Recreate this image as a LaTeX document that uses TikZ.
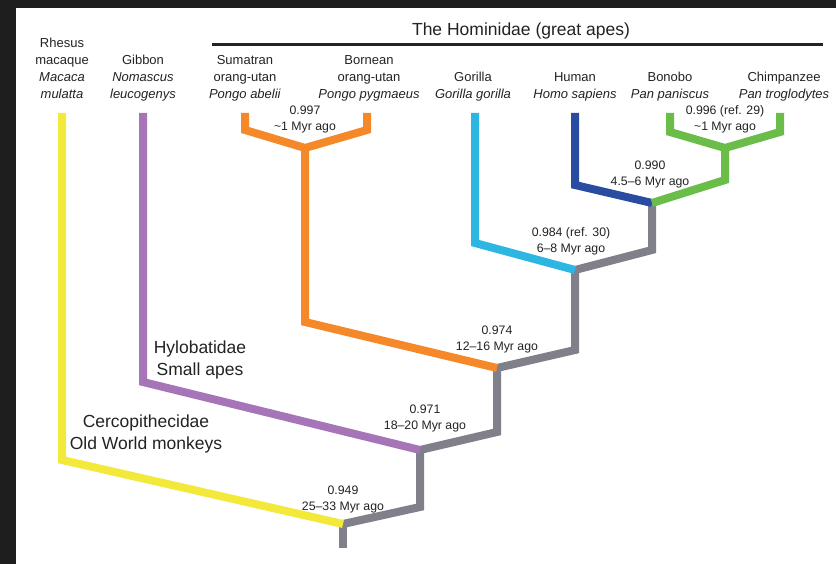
\documentclass[tikz,border=0pt]{standalone}
\usepackage{fontspec}
\setmainfont{Liberation Sans}
\usetikzlibrary{positioning}
\definecolor{framegrey}{RGB}{30,30,30}
\definecolor{macyellow}{RGB}{243,233,58}
\definecolor{gibpurple}{RGB}{166,117,184}
\definecolor{pongorange}{RGB}{245,137,42}
\definecolor{gorcyan}{RGB}{46,182,226}
\definecolor{homoblue}{RGB}{41,76,160}
\definecolor{pangreen}{RGB}{106,189,72}
\definecolor{stemgrey}{RGB}{128,128,138}
\definecolor{inkgrey}{RGB}{35,35,35}
\tikzstyle{branch} = [line width=8pt, line join=miter, line cap=butt]
\tikzstyle{taxon} = [align=center, inner sep=0pt, text depth=3pt, text=inkgrey,
font=\fontsize{13}{17}\selectfont]
\tikzstyle{age} = [align=center, inner sep=0pt, text depth=2.5pt, text=inkgrey,
font=\fontsize{12.3}{16}\selectfont]
\tikzstyle{clade} = [align=center, inner sep=0pt, text=inkgrey,
font=\fontsize{17.5}{21.5}\selectfont]
\tikzstyle{title} = [inner sep=0pt, text=inkgrey, font=\fontsize{17.5}{20}\selectfont]
\newcommand{\branch}[4][]{ %
  % Branch from junction #2 over elbow #3 up to #4.
  \draw[branch,#1] (#2) -- (#3) -- (#4) ;%
}

\begin{document}
\begin{tikzpicture}[x=1pt,y=-1pt]
	\useasboundingbox (0,0) rectangle (836,564);
	\fill[white] (0,0) rectangle (836,564);
	\fill[framegrey] (0,0) rectangle (836,8);
	\fill[framegrey] (0,0) rectangle (16,564);

	% tips
	\coordinate (tmac) at (62,113) ;
	\coordinate (tgib) at (143,113) ;
	\coordinate (tsum) at (245,113) ;
	\coordinate (tbor) at (367,113) ;
	\coordinate (tgor) at (475,113) ;
	\coordinate (thum) at (575,113) ;
	\coordinate (tbon) at (670,113) ;
	\coordinate (tchi) at (780,113) ;

	\node[taxon, above=11pt of tmac] (mac) {Rhesus\\macaque\\\textit{Macaca}\\\textit{mulatta}} ; %
	\node[taxon, above=11pt of tgib] (gib) {Gibbon\\\textit{Nomascus}\\\textit{leucogenys}} ; %
	\node[taxon, above=11pt of tsum] (sum) {Sumatran\\orang-utan\\\textit{Pongo abelii}} ; %
	\node[taxon, above=11pt of tbor, xshift=2pt] (bor) {Bornean\\orang-utan\\\textit{Pongo pygmaeus}} ; %
	\node[taxon, above=11pt of tgor, xshift=-2pt] (gor) {Gorilla\\\textit{Gorilla gorilla}} ; %
	\node[taxon, above=11pt of thum] (hum) {Human\\\textit{Homo sapiens}} ; %
	\node[taxon, above=11pt of tbon] (bon) {Bonobo\\\textit{Pan paniscus}} ; %
	\node[taxon, above=11pt of tchi, xshift=4pt] (chi) {Chimpanzee\\\textit{Pan troglodytes}} ; %

	\node[title] (hominidae) at (521,31) {The Hominidae (great apes)} ; %
	\coordinate (hl) at (212,44.5) ;
	\coordinate (hr) at (823,44.5) ;
	\draw[line width=2.5pt, inkgrey] (hl) -- (hr) ;

	% junctions and elbows
	\coordinate (root) at (343,548) ;
	\coordinate (j1) at (343,524) ;
	\coordinate (j2) at (420,450) ;
	\coordinate (j3) at (497,368) ;
	\coordinate (j4) at (575,270) ;
	\coordinate (j5) at (652,203) ;
	\coordinate (j6) at (725,148) ;
	\coordinate (j7) at (305,148) ;
	\coordinate (g1) at (420,507) ;
	\coordinate (g2) at (497,432) ;
	\coordinate (g3) at (575,350) ;
	\coordinate (g4) at (652,250) ;
	\coordinate (emac) at (62,460) ;
	\coordinate (egib) at (143,382) ;
	\coordinate (eora) at (305,322) ;
	\coordinate (egor) at (475,243) ;
	\coordinate (ehum) at (575,185) ;
	\coordinate (epan) at (725,180) ;
	\coordinate (esum) at (245,130) ;
	\coordinate (ebor) at (367,130) ;
	\coordinate (ebon) at (670,132) ;
	\coordinate (echi) at (780,132) ;

	\draw[branch, stemgrey] (root) -- (j1) ;
	\branch[stemgrey] {j1}{g1}{j2} ;
	\branch[stemgrey] {j2}{g2}{j3} ;
	\branch[stemgrey] {j3}{g3}{j4} ;
	\branch[stemgrey] {j4}{g4}{j5} ;
	\branch[macyellow] {j1}{emac}{tmac} ;
	\branch[gibpurple] {j2}{egib}{tgib} ;
	\branch[pongorange] {j3}{eora}{j7} ;
	\branch[pongorange] {j7}{esum}{tsum} ;
	\branch[pongorange] {j7}{ebor}{tbor} ;
	\branch[gorcyan] {j4}{egor}{tgor} ;
	\branch[homoblue] {j5}{ehum}{thum} ;
	\branch[pangreen] {j5}{epan}{j6} ;
	\branch[pangreen] {j6}{ebon}{tbon} ;
	\branch[pangreen] {j6}{echi}{tchi} ;

	% divergence labels
	\node[age, above=10.5pt of j1] (a1) {0.949\\25--33 Myr ago} ; %
	\node[age, above=17.5pt of j2, xshift=5pt] (a2) {0.971\\18--20 Myr ago} ; %
	\node[age, above=14.5pt of j3] (a3) {0.974\\12--16 Myr ago} ; %
	\node[age, above=14.5pt of j4, xshift=-4pt] (a4) {0.984 (ref. 30)\\6--8 Myr ago} ; %
	\node[age, above=14.5pt of j5, xshift=-2pt] (a5) {0.990\\4.5--6 Myr ago} ; %
	\node[age, above=14.5pt of j6] (a6) {0.996 (ref. 29)\\\textasciitilde1 Myr ago} ; %
	\node[age, above=14.5pt of j7] (a7) {0.997\\\textasciitilde1 Myr ago} ; %

	\node[clade] (hylo) at (200,360) {Hylobatidae\\Small apes} ; %
	\node[clade] (cerco) at (146,434) {Cercopithecidae\\Old World monkeys} ; %
\end{tikzpicture}
\end{document}
